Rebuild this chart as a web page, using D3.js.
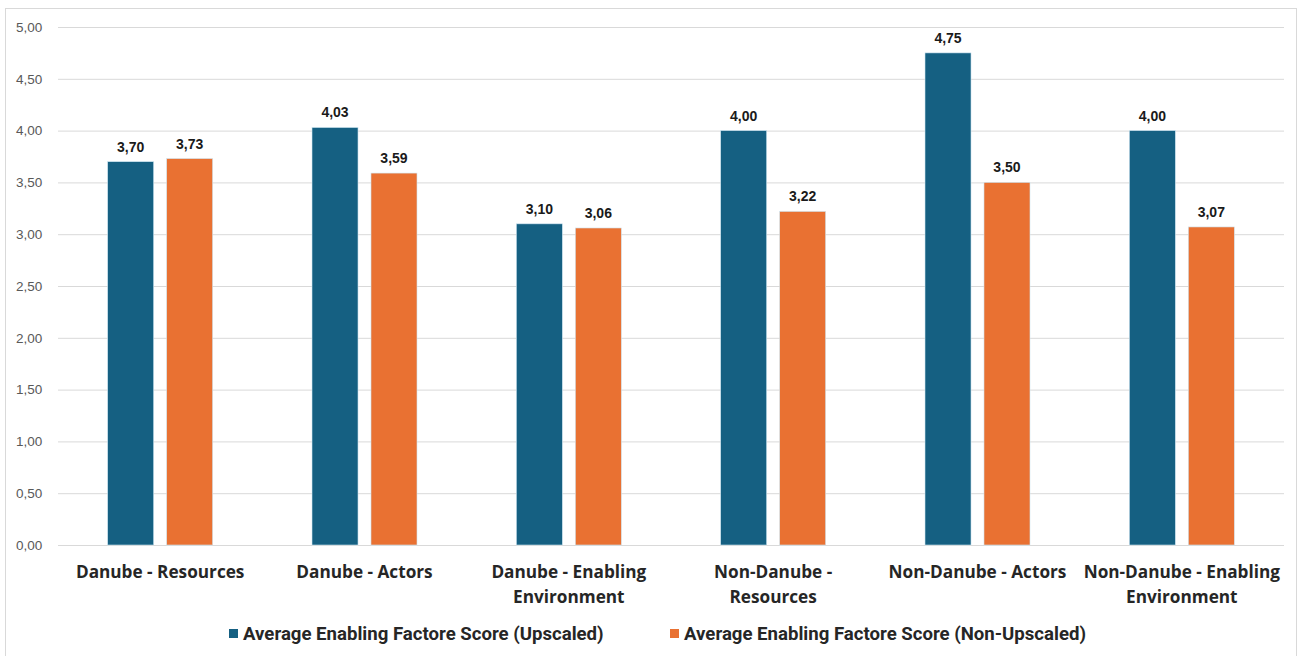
<!DOCTYPE html>
<html>
<head>
<meta charset="utf-8">
<script src="https://cdn.jsdelivr.net/npm/d3@7"></script>
<style>
  html, body { margin: 0; padding: 0; background: #ffffff; }
  svg { display: block; }
</style>
</head>
<body>
<svg id="chart" width="1299" height="656"></svg>
<script>
// Chart data
const categories = [
  ["Danube - Resources"],
  ["Danube - Actors"],
  ["Danube - Enabling", "Environment"],
  ["Non-Danube -", "Resources"],
  ["Non-Danube - Actors"],
  ["Non-Danube - Enabling", "Environment"]
];
const seriesNames = [
  "Average Enabling Factore Score (Upscaled)",
  "Average Enabling Factore Score (Non-Upscaled)"
];
const upscaled    = [3.70, 4.03, 3.10, 4.00, 4.75, 4.00];
const nonUpscaled = [3.73, 3.59, 3.06, 3.22, 3.50, 3.07];
const yTicks = [0, 0.5, 1, 1.5, 2, 2.5, 3, 3.5, 4, 4.5, 5];
const colors = ["#156082", "#E97132"];

const svg = d3.select("#chart");
const fmt = v => d3.format(".2f")(v).replace(".", ",");

// Outer frame
svg.append("rect")
  .attr("x", 5.5).attr("y", 8.5)
  .attr("width", 1291).attr("height", 660)
  .attr("fill", "#ffffff")
  .attr("stroke", "#d9d9d9").attr("stroke-width", 1);

const plot = { left: 58, right: 1284, top: 27, bottom: 545 };

const x = d3.scaleBand()
  .domain(d3.range(categories.length))
  .range([plot.left, plot.right]);

const inner = d3.scaleBand()
  .domain([0, 1])
  .range([0, 105])
  .paddingInner(0.22);

const y = d3.scaleLinear().domain([0, 5]).range([plot.bottom, plot.top]);

// Gridlines and y tick labels
const yAxis = d3.axisLeft(y)
  .tickValues(yTicks)
  .tickSize(-(plot.right - plot.left))
  .tickPadding(20)
  .tickFormat(fmt);

const gy = svg.append("g")
  .attr("transform", `translate(${plot.left},0)`)
  .call(yAxis);
gy.select(".domain").remove();
gy.selectAll(".tick line").attr("stroke", "#d9d9d9").attr("stroke-width", 1);
gy.selectAll(".tick text")
  .attr("fill", "#595959")
  .attr("font-family", "Liberation Sans, Arial, sans-serif")
  .attr("font-size", 13.5)
  .attr("text-anchor", "start")
  .attr("x", -42);

// Bars
const series = [upscaled, nonUpscaled];
const groupOffset = (x.bandwidth() - inner.range()[1]) / 2;

series.forEach((vals, s) => {
  const g = svg.append("g");
  g.selectAll("rect")
    .data(vals)
    .join("rect")
    .attr("x", (d, i) => x(i) + groupOffset + inner(s))
    .attr("y", d => y(d))
    .attr("width", inner.bandwidth())
    .attr("height", d => y(0) - y(d))
    .attr("fill", colors[s])
    .attr("stroke", "#cfe6f2")
    .attr("stroke-width", 0.6);

  g.selectAll("text")
    .data(vals)
    .join("text")
    .attr("x", (d, i) => x(i) + groupOffset + inner(s) + inner.bandwidth() / 2)
    .attr("y", d => y(d) - 10)
    .attr("text-anchor", "middle")
    .attr("font-family", "Liberation Sans, Arial, sans-serif")
    .attr("font-weight", "bold")
    .attr("font-size", 14)
    .attr("fill", "#1a1a1a")
    .text(d => fmt(d));
});

// Category labels
const cat = svg.append("g");
categories.forEach((lines, i) => {
  const t = cat.append("text")
    .attr("x", x(i) + x.bandwidth() / 2)
    .attr("y", 578)
    .attr("text-anchor", "middle")
    .attr("font-family", "'Open Sans', Roboto, sans-serif")
    .attr("font-weight", "bold")
    .attr("font-size", 17.2)
    .attr("fill", "#262626");
  lines.forEach((ln, k) => {
    t.append("tspan")
      .attr("x", x(i) + x.bandwidth() / 2)
      .attr("dy", k === 0 ? 0 : 25)
      .text(ln);
  });
});

// Legend
const legend = svg.append("g");
const legendItems = [
  { name: seriesNames[0], color: colors[0], x: 229 },
  { name: seriesNames[1], color: colors[1], x: 670 }
];
legendItems.forEach(item => {
  legend.append("rect")
    .attr("x", item.x).attr("y", 629)
    .attr("width", 9).attr("height", 9)
    .attr("fill", item.color);
  legend.append("text")
    .attr("x", item.x + 14).attr("y", 640)
    .attr("font-family", "Roboto, 'Open Sans', sans-serif")
    .attr("font-weight", "bold")
    .attr("font-size", 18.6)
    .attr("fill", "#262626")
    .text(item.name);
});
</script>
</body>
</html>
